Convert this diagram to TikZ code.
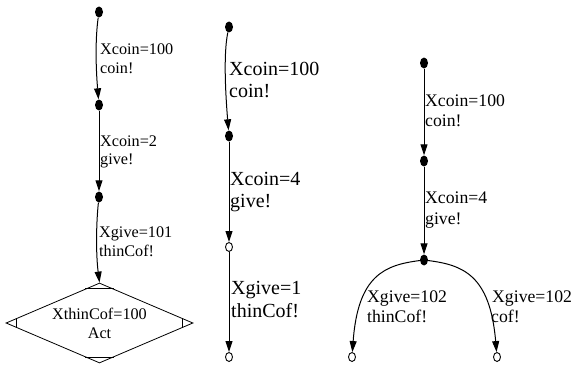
\documentclass[tikz,border=0pt]{standalone}
\usepackage{fontspec}
\setmainfont{Liberation Serif}
\usetikzlibrary{shapes.geometric,arrows.meta,calc}
\newcommand\fsA{\fontsize{16.2}{19}\selectfont}
\newcommand\fsB{\fontsize{20}{22}\selectfont}
\newcommand\fsC{\fontsize{17.7}{20}\selectfont}
\tikzset{
  dot/.style={ellipse, fill=black, minimum width=8pt, minimum height=11pt, inner sep=0pt},
  odot/.style={ellipse, draw, line width=0.9pt, fill=white, minimum width=7pt, minimum height=9pt, inner sep=0pt},
  arr/.style={line width=1pt, -{Triangle[length=11pt,width=7pt]}},
  lab/.style={anchor=base west, inner sep=0pt},
  mdia/.style={diamond, draw, line width=0.8pt, inner sep=0pt, aspect=2.34, minimum width=187pt, minimum height=80pt, align=center}
}
\begin{document}
\begin{tikzpicture}[x=1pt,y=-1pt]
\useasboundingbox (0,0) rectangle (572,369);
% left column
\node[dot] (a1) at (99,12) {};
\node[dot] (a2) at (99,105) {};
\node[dot] (a3) at (99,197) {};
\node[mdia, font=\fsA] (D) at (99.5,323) {XthinCof=100\\Act};
\draw[line width=0.8pt] ($(D.north)!0.15!(D.west)$) -- ($(D.north)!0.15!(D.east)$);
\draw[line width=0.8pt] ($(D.south)!0.15!(D.west)$) -- ($(D.south)!0.15!(D.east)$);
\draw[line width=0.8pt] ($(D.west)!0.12!(D.north)$) -- ($(D.west)!0.12!(D.south)$);
\draw[line width=0.8pt] ($(D.east)!0.12!(D.north)$) -- ($(D.east)!0.12!(D.south)$);
\draw[arr] (a1) .. controls (95,40) and (96,70) .. (a2);
\draw[arr] (a2) -- (a3);
\draw[arr] (a3) .. controls (96,225) and (96,255) .. (D.north);
\node[lab, font=\fsA] (la1) at (100,54) {Xcoin=100};
\node[lab, font=\fsA] (la2) at (100,73) {coin!};
\node[lab, font=\fsA] (la3) at (100,146) {Xcoin=2};
\node[lab, font=\fsA] (la4) at (100,164) {give!};
\node[lab, font=\fsA] (la5) at (99,237) {Xgive=101};
\node[lab, font=\fsA] (la6) at (99,256) {thinCof!};
% middle column
\node[dot] (b1) at (229,27) {};
\node[dot] (b2) at (229,136) {};
\node[odot] (b3) at (229,247) {};
\node[odot] (b4) at (229,357) {};
\draw[arr] (b1) .. controls (223,55) and (226,100) .. (b2);
\draw[arr] (b2) -- (b3);
\draw[arr] (b3) -- (b4);
\node[lab, font=\fsB] (lb1) at (229,75) {Xcoin=100};
\node[lab, font=\fsB] (lb2) at (229,97) {coin!};
\node[lab, font=\fsB] (lb3) at (230,185) {Xcoin=4};
\node[lab, font=\fsB] (lb4) at (230,207) {give!};
\node[lab, font=\fsB] (lb5) at (231,294) {Xgive=1};
\node[lab, font=\fsB] (lb6) at (231,317) {thinCof!};
% right column
\node[dot] (c1) at (424,63) {};
\node[dot] (c2) at (424,161) {};
\node[dot] (c3) at (424,260) {};
\node[odot] (c4) at (352,357) {};
\node[odot] (c5) at (497,357) {};
\draw[arr] (c1) -- (c2);
\draw[arr] (c2) -- (c3);
\draw[arr] (c3) .. controls (385,265) and (358,275) .. (c4);
\draw[arr] (c3) .. controls (463,265) and (490,275) .. (c5);
\node[lab, font=\fsC] (lc1) at (425,106) {Xcoin=100};
\node[lab, font=\fsC] (lc2) at (425,126) {coin!};
\node[lab, font=\fsC] (lc3) at (425,203) {Xcoin=4};
\node[lab, font=\fsC] (lc4) at (425,224) {give!};
\node[lab, font=\fsC] (lc5) at (367,302) {Xgive=102};
\node[lab, font=\fsC] (lc6) at (367,322) {thinCof!};
\node[lab, font=\fsC] (lc7) at (492,302) {Xgive=102};
\node[lab, font=\fsC] (lc8) at (491,322) {cof!};
\end{tikzpicture}
\end{document}
